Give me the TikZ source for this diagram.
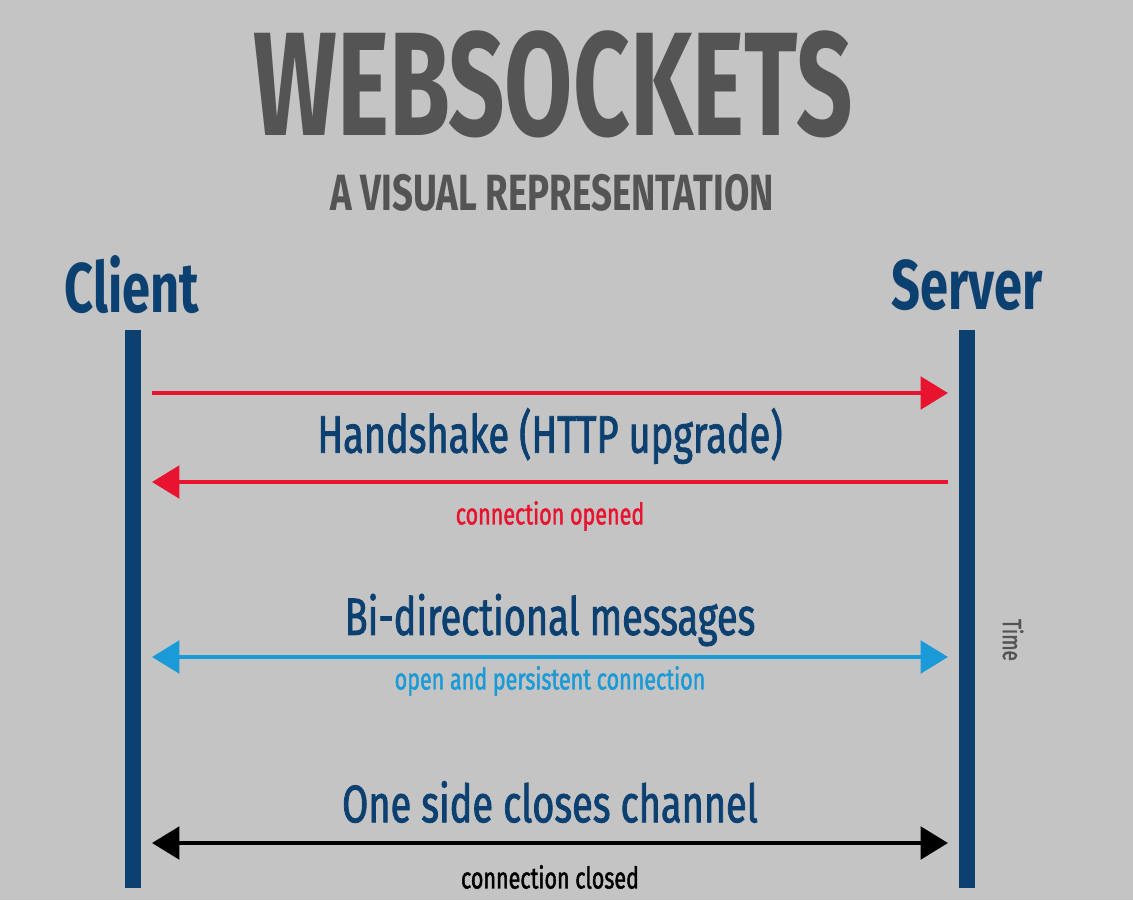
\documentclass[tikz,border=0pt]{standalone}
\usepackage{fontspec}
\setmainfont[FakeStretch=0.72,FakeBold=1.5]{Fira Sans}
\newfontfamily\titlefont[FakeStretch=0.67]{Fira Sans Bold}
\newfontfamily\subfont[FakeStretch=0.72]{Fira Sans Bold}
\usetikzlibrary{arrows.meta}
\definecolor{bg}{HTML}{C4C4C4}
\definecolor{navy}{HTML}{0B4070}
\definecolor{tgray}{HTML}{545454}
\definecolor{ared}{HTML}{E8132F}
\definecolor{ablue}{HTML}{1A9AD6}
\begin{document}
\begin{tikzpicture}[x=0.02cm,y=-0.02cm,
  lbl/.style={inner sep=0pt,anchor=center},
  life/.style={fill=navy,draw=none},
  msg/.style={line width=2.4pt,-{Triangle[length=0.55cm,width=0.65cm]}},
  bmsg/.style={line width=2.4pt,{Triangle[length=0.55cm,width=0.65cm]}-{Triangle[length=0.55cm,width=0.65cm]}}]
\fill[bg] (0,0) rectangle (1133,900);
\node[lbl,text=tgray,font=\titlefont\fontsize{84}{84}\selectfont] (title) at (553,84) {WEBSOCKETS};
\node[lbl,text=tgray,font=\subfont\fontsize{29}{29}\selectfont] (sub) at (552,193) {A VISUAL REPRESENTATION};
\node[lbl,text=navy,font=\subfont\fontsize{40}{40}\selectfont] (client) at (132,285) {Client};
\node[lbl,text=navy,font=\subfont\fontsize{40}{40}\selectfont] (server) at (967,285) {Server};
\fill[life] (125,330) rectangle (141,888);
\fill[life] (959,330) rectangle (975,888);
\coordinate (c1) at (152,393); \coordinate (s1) at (948,393);
\coordinate (c2) at (152,482); \coordinate (s2) at (948,482);
\coordinate (c3) at (152,657); \coordinate (s3) at (948,657);
\coordinate (c4) at (152,843); \coordinate (s4) at (948,843);
\draw[msg,ared] (c1) -- (s1);
\draw[msg,ared] (s2) -- (c2);
\draw[bmsg,ablue] (c3) -- (s3);
\draw[bmsg,black] (c4) -- (s4);
\node[lbl,text=navy,font=\fontsize{30}{30}\selectfont] (hs) at (550,436) {Handshake (HTTP upgrade)};
\node[lbl,text=ared,font=\fontsize{17}{17}\selectfont] (co) at (550,516) {connection opened};
\node[lbl,text=navy,font=\fontsize{30}{30}\selectfont] (bi) at (550,620) {Bi-directional messages};
\node[lbl,text=ablue,font=\fontsize{17}{17}\selectfont] (op) at (550,681) {open and persistent connection};
\node[lbl,text=navy,font=\fontsize{30}{30}\selectfont] (one) at (550,802) {One side closes channel};
\node[lbl,text=black,font=\fontsize{17}{17}\selectfont] (cc) at (550,877) {connection closed};
\node[lbl,text=tgray,rotate=-90,font=\fontsize{15}{15}\selectfont] (time) at (1013,640) {Time};
\end{tikzpicture}
\end{document}
